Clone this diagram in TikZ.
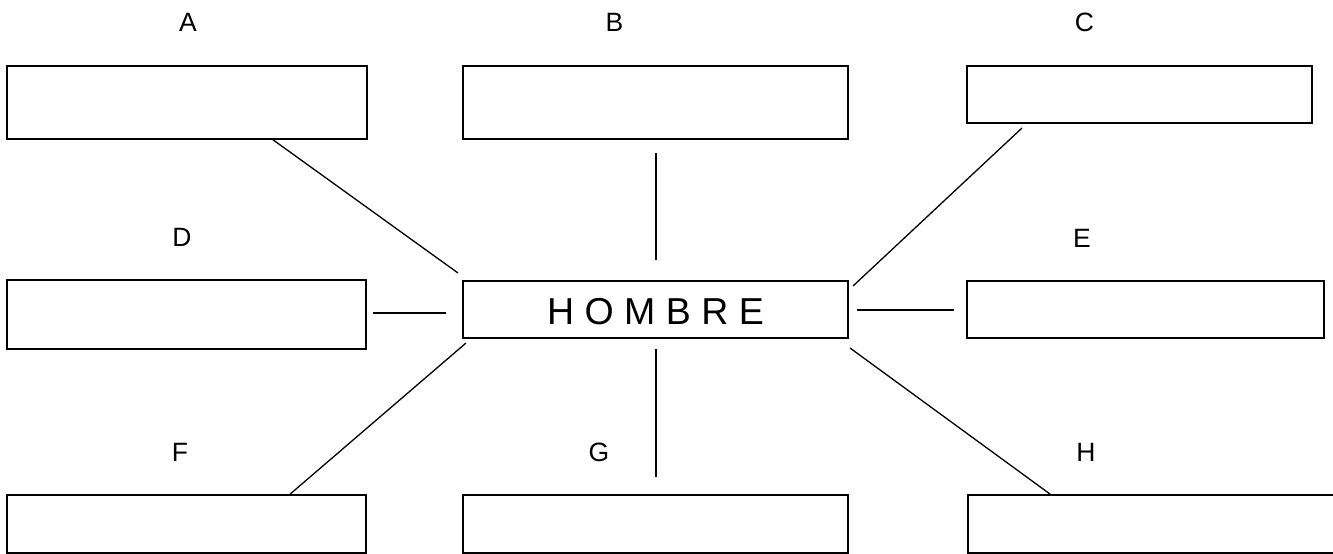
\documentclass[tikz,border=0pt]{standalone}
\usepackage{fontspec}
\setmainfont{Liberation Sans}
\begin{document}
\begin{tikzpicture}[x=1pt, y=-1pt,
  box/.style={draw, rectangle, line width=1.6pt, inner sep=0pt},
  lbl/.style={font=\fontsize{26.5}{30}\selectfont, inner sep=0pt},
  con/.style={line width=1.3pt}]
\useasboundingbox (0,0) rectangle (1333,554);
\node[lbl] (lA) at (188,22){A};
\node[lbl] (lB) at (614.5,22){B};
\node[lbl] (lC) at (1084.5,22){C};
\node[lbl] (lD) at (182,237){D};
\node[lbl] (lE) at (1082,238){E};
\node[lbl] (lF) at (180,452){F};
\node[lbl] (lG) at (599,452){G};
\node[lbl] (lH) at (1086,452){H};
\node[box, minimum width=360pt, minimum height=73pt] (bA) at (187,102.5){};
\node[box, minimum width=385pt, minimum height=73pt] (bB) at (655.5,102.5){};
\node[box, minimum width=345pt, minimum height=57pt] (bC) at (1139.5,94.5){};
\node[box, minimum width=359pt, minimum height=69pt] (bD) at (186.5,314.5){};
\node[box, minimum width=385pt, minimum height=57pt, text height=30pt,
  font=\fontsize{37.5}{40}\selectfont] (hombre) at (655.5,309.5){H O M B R E};
\node[box, minimum width=357pt, minimum height=57pt] (bE) at (1145.5,309.5){};
\node[box, minimum width=359pt, minimum height=58pt] (bF) at (186.5,524){};
\node[box, minimum width=385pt, minimum height=58pt] (bG) at (655.5,524){};
\node[box, minimum width=377pt, minimum height=58pt] (bH) at (1156.5,524){};
\coordinate (cA) at (458,273);
\coordinate (cB1) at (656,153);
\coordinate (cB2) at (656,260);
\coordinate (cC1) at (1022,128);
\coordinate (cC2) at (853,286);
\coordinate (cD1) at (373,313);
\coordinate (cD2) at (446,313);
\coordinate (cE1) at (857,310);
\coordinate (cE2) at (954,310);
\coordinate (cF) at (466,343);
\coordinate (cG1) at (656,349);
\coordinate (cG2) at (656,477);
\coordinate (cH) at (850,348);
\draw[con] ([xshift=86]bA.south) -- (cA);
\draw[con] (cB1) -- (cB2);
\draw[con] (cC1) -- (cC2);
\draw[con] (cD1) -- (cD2);
\draw[con] (cE1) -- (cE2);
\draw[con] (cF) -- ([xshift=103.5]bF.north);
\draw[con] (cG1) -- (cG2);
\draw[con] (cH) -- ([xshift=83]bH.north west);
\end{tikzpicture}
\end{document}
